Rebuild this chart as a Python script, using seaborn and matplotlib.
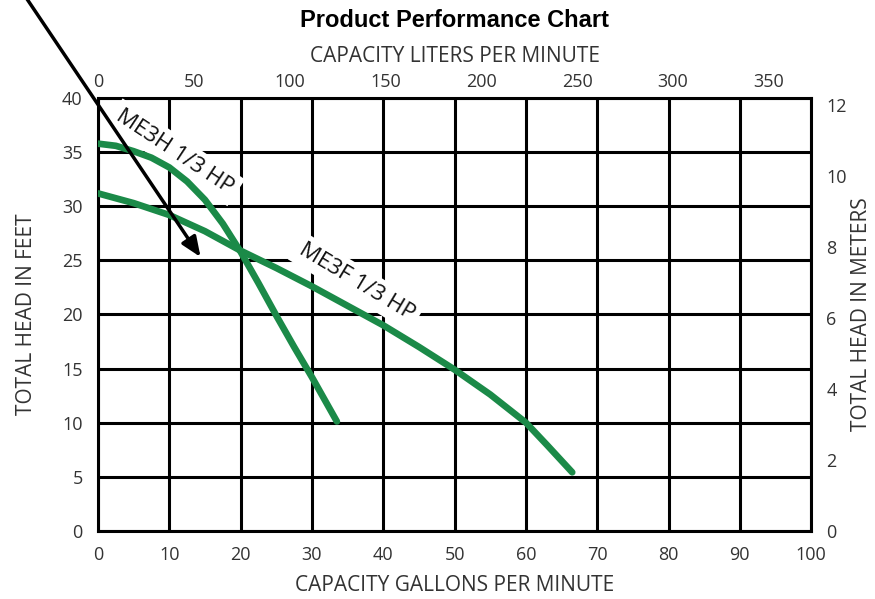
import pandas as pd
import matplotlib
matplotlib.use("Agg")
import matplotlib.pyplot as plt
import seaborn as sns

# pump curves (gallons per minute vs head in feet)
gpm_me3h = [0, 2.5, 5, 7.5, 10, 12.5, 15, 17.5, 20, 22.5, 25, 27.5, 30, 33.5]
head_me3h = [35.8, 35.6, 35.1, 34.5, 33.6, 32.3, 30.6, 28.4, 25.8, 22.9, 19.9, 17.0, 14.2, 10.1]
gpm_me3f = [0, 5, 10, 15, 20, 25, 30, 35, 40, 45, 50, 55, 60, 63, 66.5]
head_me3f = [31.2, 30.3, 29.2, 27.7, 25.9, 24.3, 22.6, 20.8, 19.0, 17.0, 14.9, 12.6, 10.0, 7.9, 5.4]

curve_names = ["ME3H 1/3 HP", "ME3F 1/3 HP"]
gpm_ticks = list(range(0, 101, 10))
feet_ticks = list(range(0, 41, 5))
lpm_ticks = list(range(0, 351, 50))
meter_ticks = list(range(0, 13, 2))

df = pd.concat([
    pd.DataFrame({"gpm": gpm_me3h, "head": head_me3h, "pump": curve_names[0]}),
    pd.DataFrame({"gpm": gpm_me3f, "head": head_me3f, "pump": curve_names[1]}),
])

sns.set_style("white")
plt.rcParams["font.family"] = ["Open Sans", "DejaVu Sans"]
text_color = "#333333"
green = "#1b8a48"

fig = plt.figure(figsize=(8.75, 5.99), dpi=100)
ax = fig.add_axes([0.112, 0.114, 0.815, 0.722])

sns.lineplot(data=df, x="gpm", y="head", hue="pump",
             palette=[green, green], linewidth=4.8, legend=False,
             ax=ax, zorder=4, solid_capstyle="round", solid_joinstyle="round")

ax.set_xlim(0, 100)
ax.set_ylim(0, 40)
ax.set_xticks(gpm_ticks)
ax.set_yticks(feet_ticks)
ax.grid(True, color="black", linewidth=2.2)
ax.set_axisbelow(True)
for s in ax.spines.values():
    s.set_color("black")
    s.set_linewidth(2.2)
ax.tick_params(length=0, labelsize=13, colors=text_color)
ax.tick_params(axis="x", pad=11)
ax.tick_params(axis="y", pad=11)
ax.set_xlabel("CAPACITY GALLONS PER MINUTE", fontsize=15, color=text_color, labelpad=8)
ax.set_ylabel("TOTAL HEAD IN FEET", fontsize=15, color=text_color, labelpad=18)

# liters per minute on top (scale as drawn on the chart), meters on the right
top = ax.secondary_xaxis("top", functions=(lambda g: g * 3.72, lambda l: l / 3.72))
top.set_xticks(lpm_ticks)
top.tick_params(length=0, labelsize=13, colors=text_color, pad=5)
top.set_xlabel("CAPACITY LITERS PER MINUTE", fontsize=15, color=text_color, labelpad=8)
top.spines["top"].set_visible(False)

right = ax.secondary_yaxis("right", functions=(lambda f: f * 0.3048, lambda m: m / 0.3048))
right.set_yticks(meter_ticks)
right.tick_params(length=0, labelsize=13, colors=text_color, pad=11)
right.set_ylabel("TOTAL HEAD IN METERS", fontsize=15, color=text_color, labelpad=3)
right.spines["right"].set_visible(False)

# curve labels with white boxes over the grid
box = dict(facecolor="white", edgecolor="none", pad=4)
ax.text(10.8, 35.0, curve_names[0], rotation=-33.5, rotation_mode="anchor",
        ha="center", va="center", fontsize=16, color="#111111", bbox=box, zorder=3)
ax.text(36.3, 23.0, curve_names[1], rotation=-31, rotation_mode="anchor",
        ha="center", va="center", fontsize=16, color="#111111", bbox=box, zorder=3)

ax.annotate("", xy=(14.6, 25.1), xytext=(-11.1, 50.3),
            arrowprops=dict(arrowstyle="-|>,head_length=0.6,head_width=0.25",
                            color="black", lw=2.5, mutation_scale=20),
            annotation_clip=False, zorder=6)

fig.text(0.52, 0.966, "Product Performance Chart", fontsize=17, fontweight="bold",
         family="Liberation Sans", ha="center", va="center", color="black")

plt.savefig("out.png", dpi=100)
plt.close()
